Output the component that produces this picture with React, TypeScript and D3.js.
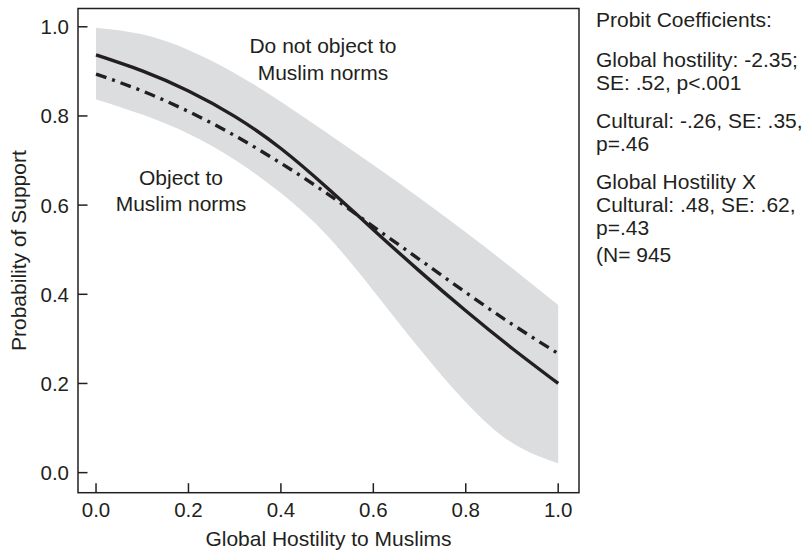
import React from "react";
import * as d3 from "d3";

// Predicted probability of support across global hostility, with 95% band
const hostility = [0, 0.1, 0.2, 0.3, 0.4, 0.5, 0.6, 0.7, 0.8, 0.9, 1.0];
const noObjection = [0.937, 0.901, 0.856, 0.799, 0.727, 0.639, 0.545, 0.452, 0.363, 0.279, 0.2];
const objection = [0.894, 0.856, 0.81, 0.756, 0.694, 0.626, 0.552, 0.478, 0.404, 0.333, 0.267];
const bandUpper = [0.998, 0.983, 0.948, 0.896, 0.832, 0.762, 0.69, 0.616, 0.539, 0.459, 0.376];
const bandLower = [0.837, 0.803, 0.76, 0.702, 0.627, 0.532, 0.408, 0.278, 0.158, 0.067, 0.021];

const xTicks = [0, 0.2, 0.4, 0.6, 0.8, 1.0];
const yTicks = [0, 0.2, 0.4, 0.6, 0.8, 1.0];

const coefLines = [
  { text: "Probit Coefficients:", y: 26.5 },
  { text: "Global hostility: -2.35;", y: 66.5 },
  { text: "SE: .52, p<.001", y: 89.5 },
  { text: "Cultural: -.26, SE: .35,", y: 127.5 },
  { text: "p=.46", y: 150.5 },
  { text: "Global Hostility X", y: 188.5 },
  { text: "Cultural: .48, SE: .62,", y: 211.5 },
  { text: "p=.43", y: 234.5 },
  { text: "(N= 945", y: 261.5 },
];

const W = 806;
const H = 551;
const left = 78;
const right = 579;
const top = 8.5;
const bottom = 492.7;

const ink = "#231f20";
const font = "'Liberation Sans', Arial, Helvetica, sans-serif";

export default function App() {
  const x = d3.scaleLinear().domain([-0.039, 1.045]).range([left, right]);
  const y = d3.scaleLinear().domain([-0.045, 1.041]).range([bottom, top]);

  const idx = hostility.map((_, i) => i);

  const band = d3
    .area<number>()
    .x((i) => x(hostility[i]))
    .y0((i) => y(bandLower[i]))
    .y1((i) => y(bandUpper[i]))
    .curve(d3.curveNatural);

  const line = (vals: number[]) =>
    d3
      .line<number>()
      .x((i) => x(hostility[i]))
      .y((i) => y(vals[i]))
      .curve(d3.curveNatural)(idx) || "";

  const tickLen = 9.5;
  const fmt = d3.format(".1f");

  return (
    <svg
      width={W}
      height={H}
      style={{ position: "absolute", left: 0, top: 0, background: "#fff" }}
      fontFamily={font}
    >
      <rect x={0} y={0} width={W} height={H} fill="#fff" />
      <path d={band(idx) || ""} fill="#dcdddf" />
      <path d={line(objection)} fill="none" stroke={ink} strokeWidth={3.4} strokeDasharray="11,6,3,6" />
      <path d={line(noObjection)} fill="none" stroke={ink} strokeWidth={3.4} />

      {/* frame */}
      <rect x={left} y={top} width={right - left} height={bottom - top} fill="none" stroke={ink} strokeWidth={1.5} />

      {/* y axis */}
      {yTicks.map((t) => (
        <g key={"y" + t}>
          <line x1={left} x2={left + tickLen} y1={y(t)} y2={y(t)} stroke={ink} strokeWidth={1.5} />
          <text x={69} y={y(t)} dy="0.36em" textAnchor="end" fontSize={20.5} fill={ink}>
            {fmt(t)}
          </text>
        </g>
      ))}

      {/* x axis */}
      {xTicks.map((t) => (
        <g key={"x" + t}>
          <line x1={x(t)} x2={x(t)} y1={bottom} y2={bottom - tickLen} stroke={ink} strokeWidth={1.5} />
          <text x={x(t)} y={516.7} textAnchor="middle" fontSize={20.5} fill={ink}>
            {fmt(t)}
          </text>
        </g>
      ))}

      <text x={(left + right) / 2} y={545.5} textAnchor="middle" fontSize={21} fill={ink}>
        Global Hostility to Muslims
      </text>
      <text
        transform={`translate(26,${(top + bottom) / 2}) rotate(-90)`}
        textAnchor="middle"
        fontSize={21}
        fill={ink}
      >
        Probability of Support
      </text>

      {/* curve labels */}
      <text x={323} y={53.3} textAnchor="middle" fontSize={21} fill={ink}>
        Do not object to
      </text>
      <text x={323} y={80} textAnchor="middle" fontSize={21} fill={ink}>
        Muslim norms
      </text>
      <text x={181} y={185} textAnchor="middle" fontSize={21} fill={ink}>
        Object to
      </text>
      <text x={181} y={211} textAnchor="middle" fontSize={21} fill={ink}>
        Muslim norms
      </text>

      {/* coefficient notes */}
      {coefLines.map((l) => (
        <text key={l.text} x={596} y={l.y} fontSize={21} fill={ink}>
          {l.text}
        </text>
      ))}
    </svg>
  );
}
